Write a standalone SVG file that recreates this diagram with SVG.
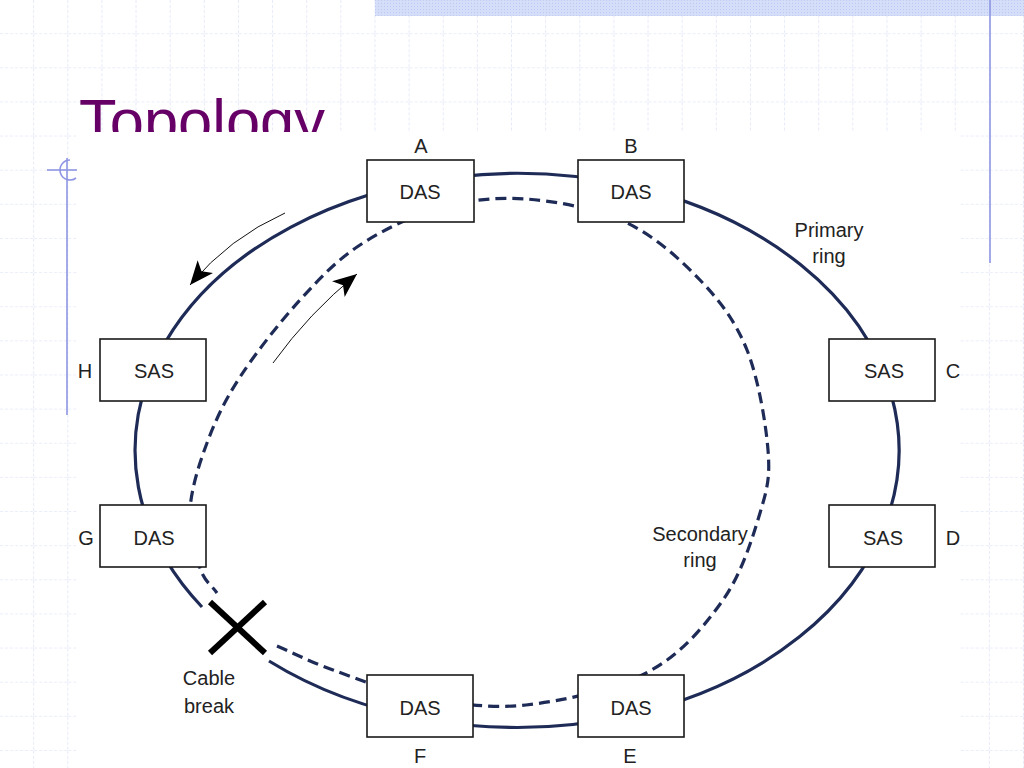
<svg xmlns="http://www.w3.org/2000/svg" width="1024" height="768" viewBox="0 0 1024 768">
<defs>
<pattern id="grid" x="0" y="0" width="34.1333" height="34.1333" patternUnits="userSpaceOnUse">
<path d="M34.1333 0 V34.1333 M0 34.1333 H34.1333" fill="none" stroke="#d6dbf5" stroke-width="1.2" stroke-dasharray="3 2"/>
</pattern>
<pattern id="dots" x="0" y="0" width="3" height="3" patternUnits="userSpaceOnUse">
<rect width="3" height="3" fill="#d4def8"/>
<rect width="1" height="1" fill="#bccbf2"/>
</pattern>
<marker id="ah" viewBox="0 0 12 10" refX="12" refY="5" markerWidth="25" markerHeight="20" markerUnits="userSpaceOnUse" orient="auto">
<path d="M0,0 L12,5 L0,10 L3,5 z" fill="#000"/>
</marker>
<style>
.box{fill:#fff;stroke:#1a1a1a;stroke-width:1.6}
.t{font-family:"Liberation Sans",Arial,sans-serif;font-size:20px;fill:#222;text-anchor:middle}
.ring{fill:none;stroke:#1e2b57;stroke-width:3.2}
.dash{stroke-dasharray:11 6}
.tmpl{stroke:#8f95e3;stroke-width:1.6;fill:none}
.arr{fill:none;stroke:#111;stroke-width:1;marker-end:url(#ah)}
</style>
</defs>

<rect width="1024" height="768" fill="#fff"/>
<rect width="1024" height="768" fill="url(#grid)"/>
<rect x="375" y="0" width="649" height="16" fill="url(#dots)"/>
<line class="tmpl" x1="990" y1="0" x2="990" y2="263"/>
<text x="79" y="142" font-family="'Liberation Sans',Arial,sans-serif" font-size="62" fill="#660066" textLength="246" lengthAdjust="spacingAndGlyphs">Topology</text>

<rect x="77" y="132" width="883" height="636" fill="#fff"/>

<g id="template-mark">
<line class="tmpl" x1="47" y1="170" x2="77" y2="170"/>
<path class="tmpl" d="M70 160 A10 10 0 1 0 76 178"/>
<line class="tmpl" x1="67" y1="158" x2="67" y2="415"/>
</g>

<g id="connectors">
<path id="primary-ring" class="ring" d="M269 661 A382 277 0 1 0 202 607"/>
<path id="secondary-ring" class="ring dash" d="M277 646 C295.7 654 309.2 661.5 333 670 C356.8 678.5 387.8 691.2 420 697 C452.2 702.8 488 709.2 526 705 C564 700.8 615.2 689.5 648 672 C680.8 654.5 704.3 626.5 723 600 C741.7 573.5 752.5 538 760 513 C767.5 488 770.2 477.2 768 450 C765.8 422.8 758.3 378.3 747 350 C735.7 321.7 720.3 301.3 700 280 C679.7 258.7 654 235.5 625 222 C596 208.5 556.8 201.3 526 199 C495.2 196.7 467.7 200.3 440 208 C412.3 215.7 383.3 229.7 360 245 C336.7 260.3 320 278 300 300 C280 322 255.5 353.2 240 377 C224.5 400.8 215.3 420.8 207 443 C198.7 465.2 191.2 489.2 190 510 C188.8 530.8 195.5 554.2 200 568 C204.5 581.8 211.3 584.7 217 593"/>
<path id="arrow-primary" class="arr" d="M285 213 Q229 238 190 285"/>
<path id="arrow-secondary" class="arr" d="M273 363 Q309 313 357 274"/>
</g>

<g id="cable-break">
<line x1="210" y1="602" x2="265" y2="653" stroke="#000" stroke-width="6"/>
<line x1="265" y1="602" x2="210" y2="653" stroke="#000" stroke-width="6"/>
<text class="t" x="209" y="685">Cable</text>
<text class="t" x="209" y="713">break</text>
</g>

<g id="label-primary">
<text class="t" x="829" y="237">Primary</text>
<text class="t" x="829" y="263">ring</text>
</g>
<g id="label-secondary">
<text class="t" x="700" y="541">Secondary</text>
<text class="t" x="700" y="567">ring</text>
</g>

<g id="node-A">
<rect class="box" x="367" y="160" width="107" height="62"/>
<text class="t" x="420" y="199">DAS</text>
<text class="t" x="421" y="153">A</text>
</g>
<g id="node-B">
<rect class="box" x="578" y="160" width="106" height="62"/>
<text class="t" x="631" y="199">DAS</text>
<text class="t" x="631" y="153">B</text>
</g>
<g id="node-H">
<rect class="box" x="100" y="339" width="106" height="62"/>
<text class="t" x="154" y="378">SAS</text>
<text class="t" x="85" y="378">H</text>
</g>
<g id="node-C">
<rect class="box" x="829" y="339" width="106" height="62"/>
<text class="t" x="884" y="378">SAS</text>
<text class="t" x="953" y="378">C</text>
</g>
<g id="node-G">
<rect class="box" x="100" y="505" width="106" height="62"/>
<text class="t" x="154" y="545">DAS</text>
<text class="t" x="86" y="545">G</text>
</g>
<g id="node-D">
<rect class="box" x="829" y="505" width="106" height="62"/>
<text class="t" x="883" y="545">SAS</text>
<text class="t" x="953" y="545">D</text>
</g>
<g id="node-F">
<rect class="box" x="367" y="675" width="106" height="62"/>
<text class="t" x="420" y="715">DAS</text>
<text class="t" x="420" y="763">F</text>
</g>
<g id="node-E">
<rect class="box" x="578" y="675" width="106" height="62"/>
<text class="t" x="631" y="715">DAS</text>
<text class="t" x="630" y="763">E</text>
</g>
</svg>
